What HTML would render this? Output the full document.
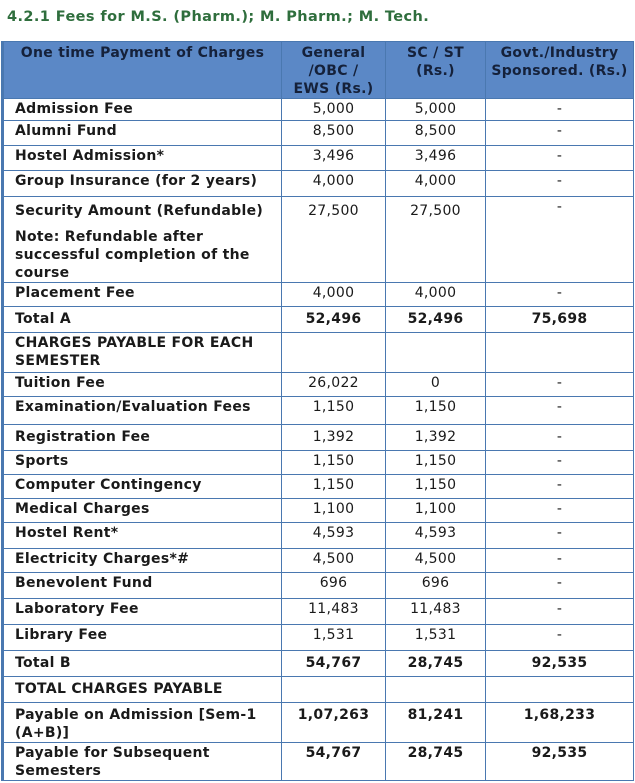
<!DOCTYPE html>
<html><head><meta charset="utf-8"><style>
body{margin:0;background:#fff;width:635px;height:783px;overflow:hidden;font-family:"DejaVu Sans","Liberation Sans",sans-serif;}
h1{position:absolute;left:7px;top:9px;margin:0;font-size:14.5px;font-weight:bold;color:#2f6e3d;letter-spacing:0.4px;}
table{position:absolute;left:1px;top:41px;border-collapse:collapse;table-layout:fixed;width:631px;}
td{border:1.5px solid #4a78b0;font-size:14px;font-weight:bold;color:#1a1a1a;vertical-align:top;padding:1px 2px 0 11px;line-height:18px;overflow:hidden;letter-spacing:0.3px;}
td.c{text-align:center;padding:1px 2px 0 2px;font-weight:normal;}
td.b{font-weight:bold}
tr.h td{background:#5b88c6;color:#15213a;text-align:center;padding:2px 3px 0;}
table{border-left:3px solid #4a78b0;}
</style></head><body>
<h1>4.2.1 Fees for M.S. (Pharm.); M. Pharm.; M. Tech.</h1>
<table>
<col style="width:279px"><col style="width:104px"><col style="width:100px"><col style="width:148px">
<tr class="h" style="height:57px"><td style="text-align:center">One time Payment of Charges</td><td>General<br>/OBC /<br>EWS (Rs.)</td><td>SC / ST<br>(Rs.)</td><td>Govt./Industry Sponsored. (Rs.)</td></tr>
<tr style="height:22px"><td>Admission Fee</td><td class="c">5,000</td><td class="c">5,000</td><td class="c">-</td></tr>
<tr style="height:25px"><td>Alumni Fund</td><td class="c">8,500</td><td class="c">8,500</td><td class="c">-</td></tr>
<tr style="height:25px"><td>Hostel Admission*</td><td class="c">3,496</td><td class="c">3,496</td><td class="c">-</td></tr>
<tr style="height:26px"><td>Group Insurance (for 2 years)</td><td class="c">4,000</td><td class="c">4,000</td><td class="c">-</td></tr>
<tr style="height:86px"><td style="padding-top:5px">Security Amount (Refundable)<div style="margin-top:8px">Note: Refundable after successful completion of the course</div></td><td class="c" style="padding-top:5px">27,500</td><td class="c" style="padding-top:5px">27,500</td><td class="c">-</td></tr>
<tr style="height:24px"><td>Placement Fee</td><td class="c">4,000</td><td class="c">4,000</td><td class="c">-</td></tr>
<tr style="height:26px"><td style="padding-top:3px">Total A</td><td class="c b" style="padding-top:3px">52,496</td><td class="c b" style="padding-top:3px">52,496</td><td class="c b" style="padding-top:3px">75,698</td></tr>
<tr style="height:40px"><td>CHARGES PAYABLE FOR EACH SEMESTER</td><td></td><td></td><td></td></tr>
<tr style="height:24px"><td>Tuition Fee</td><td class="c">26,022</td><td class="c">0</td><td class="c">-</td></tr>
<tr style="height:28px"><td>Examination/Evaluation Fees</td><td class="c">1,150</td><td class="c">1,150</td><td class="c">-</td></tr>
<tr style="height:26px"><td style="padding-top:3px">Registration Fee</td><td class="c" style="padding-top:3px">1,392</td><td class="c" style="padding-top:3px">1,392</td><td class="c" style="padding-top:3px">-</td></tr>
<tr style="height:24px"><td>Sports</td><td class="c">1,150</td><td class="c">1,150</td><td class="c">-</td></tr>
<tr style="height:24px"><td>Computer Contingency</td><td class="c">1,150</td><td class="c">1,150</td><td class="c">-</td></tr>
<tr style="height:24px"><td>Medical Charges</td><td class="c">1,100</td><td class="c">1,100</td><td class="c">-</td></tr>
<tr style="height:26px"><td>Hostel Rent*</td><td class="c">4,593</td><td class="c">4,593</td><td class="c">-</td></tr>
<tr style="height:24px"><td>Electricity Charges*#</td><td class="c">4,500</td><td class="c">4,500</td><td class="c">-</td></tr>
<tr style="height:26px"><td>Benevolent Fund</td><td class="c">696</td><td class="c">696</td><td class="c">-</td></tr>
<tr style="height:26px"><td>Laboratory Fee</td><td class="c">11,483</td><td class="c">11,483</td><td class="c">-</td></tr>
<tr style="height:26px"><td>Library Fee</td><td class="c">1,531</td><td class="c">1,531</td><td class="c">-</td></tr>
<tr style="height:26px"><td style="padding-top:3px">Total B</td><td class="c b" style="padding-top:3px">54,767</td><td class="c b" style="padding-top:3px">28,745</td><td class="c b" style="padding-top:3px">92,535</td></tr>
<tr style="height:26px"><td style="padding-top:3px">TOTAL CHARGES PAYABLE</td><td></td><td></td><td></td></tr>
<tr style="height:40px"><td style="padding-top:3px">Payable on Admission [Sem-1 (A+B)]</td><td class="c b" style="padding-top:3px">1,07,263</td><td class="c b" style="padding-top:3px">81,241</td><td class="c b" style="padding-top:3px">1,68,233</td></tr>
<tr style="height:38px"><td>Payable for Subsequent Semesters</td><td class="c b">54,767</td><td class="c b">28,745</td><td class="c b">92,535</td></tr>
</table>
</body></html>
